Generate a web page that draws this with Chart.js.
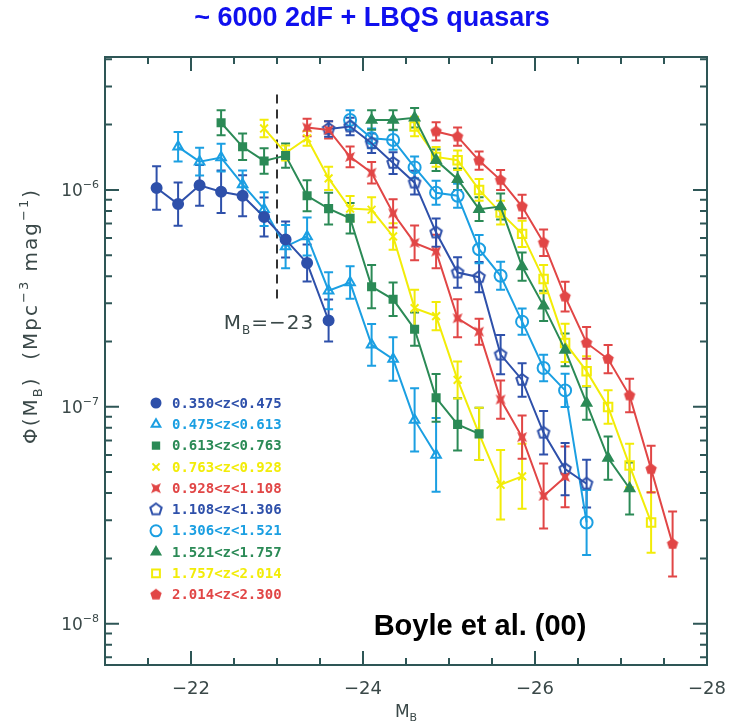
<!DOCTYPE html>
<html>
<head>
<meta charset="utf-8">
<script src="https://cdn.jsdelivr.net/npm/chart.js@4.4.1/dist/chart.umd.min.js"></script>
<style>
html, body { margin: 0; padding: 0; background: #fff; }
</style>
</head>
<body>
<canvas id="chart" width="743" height="725"></canvas>
<script>
// redshift slices
var zLabels = ["0.350<z<0.475", "0.475<z<0.613", "0.613<z<0.763", "0.763<z<0.928", "0.928<z<1.108",
               "1.108<z<1.306", "1.306<z<1.521", "1.521<z<1.757", "1.757<z<2.014", "2.014<z<2.300"];

// absolute magnitude bins (M_B)
var magBins = [-21.6, -21.85, -22.1, -22.35, -22.6, -22.85, -23.1, -23.35, -23.6, -23.85, -24.1, -24.35, -24.6,
               -24.85, -25.1, -25.35, -25.6, -25.85, -26.1, -26.35, -26.6, -26.85, -27.1, -27.35, -27.6];
var firstBin = [0, 1, 3, 5, 7, 8, 9, 10, 12, 13];

// Phi(M_B) in units of 1e-6 Mpc^-3 mag^-1
var phiUnit = 1e-6;
var phi1 = [1.02, 0.86, 1.05, 0.98, 0.94, 0.75, 0.59, 0.46, 0.25];
var phi2 = [1.58, 1.35, 1.41, 1.06, 0.815, 0.548, 0.61, 0.343, 0.374, 0.193, 0.166, 0.087, 0.060];
var phi3 = [2.04, 1.58, 1.36, 1.44, 0.94, 0.82, 0.74, 0.358, 0.313, 0.228, 0.110, 0.083, 0.075];
var phi4 = [1.92, 1.48, 1.73, 1.13, 0.82, 0.81, 0.61, 0.285, 0.262, 0.133, 0.075, 0.0437, 0.0478];
var phi5 = [1.94, 1.89, 1.42, 1.20, 0.78, 0.57, 0.52, 0.256, 0.222, 0.108, 0.0725, 0.0388, 0.0475];
var phi6 = [1.91, 1.96, 1.64, 1.33, 1.08, 0.636, 0.416, 0.396, 0.174, 0.133, 0.0759, 0.0516, 0.0442];
var phi7 = [2.10, 1.73, 1.70, 1.27, 0.97, 0.94, 0.533, 0.402, 0.247, 0.151, 0.119, 0.0293];
var phi8 = [2.10, 2.10, 2.15, 1.37, 1.12, 0.815, 0.838, 0.443, 0.292, 0.183, 0.104, 0.058, 0.042];
var phi9 = [1.96, 1.42, 1.37, 1.00, 0.786, 0.627, 0.388, 0.197, 0.146, 0.0998, 0.0536, 0.0293];
var phi10 = [1.86, 1.76, 1.365, 1.11, 0.838, 0.571, 0.322, 0.197, 0.166, 0.1127, 0.0516, 0.0233];

// half length of error bars, in dex
var err1 = [0.10, 0.10, 0.094, 0.098, 0.095, 0.09, 0.083, 0.085, 0.097];
var err2 = [0.068, 0.064, 0.064, 0.064, 0.078, 0.10, 0.088, 0.085, 0.075, 0.096, 0.10, 0.146, 0.17];
var err3 = [0.058, 0.061, 0.059, 0.056, 0.071, 0.073, 0.07, 0.10, 0.077, 0.077, 0.11, 0.12, 0.12];
var err4 = [0.04, 0.035, 0.034, 0.054, 0.058, 0.058, 0.061, 0.085, 0.065, 0.085, 0.12, 0.16, 0.15];
var err5 = [0.04, 0.04, 0.048, 0.05, 0.065, 0.08, 0.077, 0.088, 0.06, 0.088, 0.10, 0.15, 0.14];
var err6 = [0.036, 0.04, 0.045, 0.05, 0.055, 0.065, 0.07, 0.07, 0.09, 0.077, 0.10, 0.12, 0.11];
var err7 = [0.045, 0.045, 0.045, 0.05, 0.055, 0.055, 0.065, 0.065, 0.06, 0.061, 0.077, 0.15];
var err8 = [0.045, 0.045, 0.045, 0.05, 0.05, 0.055, 0.06, 0.065, 0.07, 0.075, 0.077, 0.10, 0.12];
var err9 = [0.045, 0.045, 0.045, 0.05, 0.055, 0.06, 0.065, 0.088, 0.069, 0.077, 0.10, 0.14];
var err10 = [0.042, 0.042, 0.042, 0.046, 0.054, 0.061, 0.069, 0.073, 0.065, 0.077, 0.108, 0.15];

// M_B = -23 cut
var mbCut = -23;
var cutPhi = [2.75e-6, 3.1e-7];

// axes
var xMin = -28, xMax = -21;
var yMin = 6.45e-9, yMax = 4.1e-6;
var xLabelTicks = [-22, -24, -26, -28];
var xMinorTicks = [-21.5, -22.5, -23, -23.5, -24.5, -25, -25.5, -26.5, -27, -27.5];
var yLabelTicks = [1e-8, 1e-7, 1e-6];
var yMinorTicks = [7e-9, 8e-9, 9e-9, 2e-8, 3e-8, 4e-8, 5e-8, 6e-8, 7e-8, 8e-8, 9e-8,
                   2e-7, 3e-7, 4e-7, 5e-7, 6e-7, 7e-7, 8e-7, 9e-7, 2e-6, 3e-6, 4e-6];

var phiSeries = [phi1, phi2, phi3, phi4, phi5, phi6, phi7, phi8, phi9, phi10];
var errSeries = [err1, err2, err3, err4, err5, err6, err7, err8, err9, err10];

var darkBlue = "#2e50aa", lightBlue = "#1b9fe2", green = "#2b8a56", yellow = "#f2ec08", red = "#e14646";
var frameColor = "#2e5656", textColor = "#3a4848";

function makeMarker(color, sides, inner, rot, filled, r) {
    var c = document.createElement("canvas");
    var s = Math.ceil(2 * r + 4);
    c.width = s; c.height = s;
    var g = c.getContext("2d");
    g.translate(s / 2, s / 2);
    g.beginPath();
    var n = inner ? sides * 2 : sides;
    for (var k = 0; k < n; k++) {
        var rr = (inner && k % 2) ? r * inner : r;
        var a = rot + k * 2 * Math.PI / n;
        if (k == 0) g.moveTo(rr * Math.cos(a), rr * Math.sin(a));
        else g.lineTo(rr * Math.cos(a), rr * Math.sin(a));
    }
    g.closePath();
    if (filled) { g.fillStyle = color; g.fill(); }
    else { g.strokeStyle = color; g.lineWidth = 2; g.stroke(); }
    return c;
}

var seriesLook = [
    { color: darkBlue, style: "circle", filled: true, r: 5 },
    { color: lightBlue, style: "triangle", filled: false, r: 5.5 },
    { color: green, style: "rect", filled: true, r: 5 },
    { color: yellow, style: "crossRot", filled: false, r: 5.5 },
    { color: red, style: makeMarker(red, 4, 0.4, Math.PI / 4, true, 7), filled: true, r: 6 },
    { color: darkBlue, style: makeMarker(darkBlue, 5, 0, -Math.PI / 2, false, 6), filled: false, r: 6 },
    { color: lightBlue, style: "circle", filled: false, r: 6 },
    { color: green, style: "triangle", filled: true, r: 5.5 },
    { color: yellow, style: "rect", filled: false, r: 6 },
    { color: red, style: makeMarker(red, 5, 0, -Math.PI / 2, true, 6), filled: true, r: 6 }
];

var datasets = [];
for (var i = 0; i < zLabels.length; i++) {
    var pts = [];
    for (var j = 0; j < phiSeries[i].length; j++) {
        pts.push({ x: magBins[firstBin[i] + j], y: phiSeries[i][j] * phiUnit });
    }
    var look = seriesLook[i];
    datasets.push({
        label: zLabels[i],
        data: pts,
        errs: errSeries[i],
        look: look,
        borderColor: look.color,
        backgroundColor: look.color,
        pointStyle: look.style,
        pointRadius: look.r,
        pointBorderWidth: 2,
        pointBorderColor: look.color,
        pointBackgroundColor: look.filled ? look.color : "rgba(0,0,0,0)",
        borderWidth: 2,
        fill: false,
        tension: 0
    });
}
datasets.push({
    label: "cut",
    data: [{ x: mbCut, y: cutPhi[0] }, { x: mbCut, y: cutPhi[1] }],
    borderColor: "#333",
    borderWidth: 2,
    borderDash: [9, 6],
    pointRadius: 0,
    fill: false
});

var errorBars = {
    id: "errorBars",
    beforeDatasetsDraw: function(chart) {
        var c = chart.ctx, xs = chart.scales.x, ys = chart.scales.y;
        var cap = 4.5;
        c.save();
        c.lineWidth = 2;
        chart.data.datasets.forEach(function(ds) {
            if (!ds.errs) return;
            c.strokeStyle = ds.borderColor;
            ds.data.forEach(function(p, j) {
                var f = Math.pow(10, ds.errs[j]);
                var px = xs.getPixelForValue(p.x);
                var top = ys.getPixelForValue(p.y * f);
                var bot = ys.getPixelForValue(p.y / f);
                c.beginPath();
                c.moveTo(px, top); c.lineTo(px, bot);
                c.moveTo(px - cap, top); c.lineTo(px + cap, top);
                c.moveTo(px - cap, bot); c.lineTo(px + cap, bot);
                c.stroke();
            });
        });
        c.restore();
    }
};

function textRun(c, parts, x, y, align, family) {
    var total = 0;
    parts.forEach(function(p) { c.font = p[1] + "px " + family; total += c.measureText(p[0]).width; });
    var sx = align == "center" ? x - total / 2 : (align == "right" ? x - total : x);
    c.textAlign = "left";
    parts.forEach(function(p) {
        c.font = p[1] + "px " + family;
        c.fillText(p[0], sx, y + p[2]);
        sx += c.measureText(p[0]).width;
    });
}

var decor = {
    id: "decor",
    afterDraw: function(chart) {
        var c = chart.ctx, a = chart.chartArea, xs = chart.scales.x, ys = chart.scales.y;
        var fam = "'DejaVu Sans', sans-serif";
        c.save();
        // frame + inward ticks
        c.strokeStyle = frameColor;
        c.lineWidth = 2;
        c.strokeRect(a.left, a.top, a.right - a.left, a.bottom - a.top);
        c.beginPath();
        function xTick(v, len) {
            var px = xs.getPixelForValue(v);
            c.moveTo(px, a.bottom); c.lineTo(px, a.bottom - len);
            c.moveTo(px, a.top); c.lineTo(px, a.top + len);
        }
        function yTick(v, len) {
            var py = ys.getPixelForValue(v);
            c.moveTo(a.left, py); c.lineTo(a.left + len, py);
            c.moveTo(a.right, py); c.lineTo(a.right - len, py);
        }
        xLabelTicks.forEach(function(v) { xTick(v, 14); });
        xMinorTicks.forEach(function(v) { xTick(v, 7); });
        yLabelTicks.forEach(function(v) { yTick(v, 14); });
        yMinorTicks.forEach(function(v) { yTick(v, 7); });
        c.stroke();

        // tick labels
        c.fillStyle = textColor;
        c.textBaseline = "middle";
        xLabelTicks.forEach(function(v) {
            textRun(c, [["\u2212" + Math.abs(v), 18, 0]], xs.getPixelForValue(v), a.bottom + 24, "center", fam);
        });
        c.textBaseline = "alphabetic";
        yLabelTicks.forEach(function(v) {
            var ex = Math.round(Math.log10(v));
            textRun(c, [["10", 17, 0], ["\u2212" + Math.abs(ex), 11, -8]], a.left - 6, ys.getPixelForValue(v) + 6, "right", fam);
        });

        // axis titles
        textRun(c, [["M", 17, 0], ["B", 11, 4]], (a.left + a.right) / 2, a.bottom + 52, "center", fam);
        c.save();
        c.translate(37, 316);
        c.rotate(-Math.PI / 2);
        c.letterSpacing = "2px";
        textRun(c, [["\u03A6(M", 20, 0], ["B", 13, 5], [")  (Mpc", 20, 0], ["\u22123", 13, -9],
                    [" mag", 20, 0], ["\u22121", 13, -9], [")", 20, 0]], 0, 0, "center", fam);
        c.restore();

        // M_B = -23 note
        c.save();
        c.letterSpacing = "1px";
        textRun(c, [["M", 20, 0], ["B", 12, 5], ["=\u221223", 20, 0]], xs.getPixelForValue(mbCut) - 8, ys.getPixelForValue(cutPhi[1]) + 29, "center", fam);
        c.restore();

        // legend
        c.textBaseline = "middle";
        chart.data.datasets.forEach(function(ds, k) {
            if (!ds.look) return;
            var ly = a.top + 346 + k * 21.3;
            var lx = a.left + 51;
            c.fillStyle = ds.look.filled ? ds.look.color : "rgba(0,0,0,0)";
            c.strokeStyle = ds.look.color;
            c.lineWidth = 2;
            Chart.helpers.drawPoint(c, { pointStyle: ds.look.style, radius: ds.look.r - 0.5, borderWidth: 2, rotation: 0 }, lx, ly);
            c.fillStyle = ds.look.color;
            c.font = "bold 14px 'DejaVu Sans Mono', monospace";
            c.textAlign = "left";
            c.fillText(ds.label, lx + 16, ly + 1);
        });

        // title and credit
        c.fillStyle = "#1010ee";
        c.font = "bold 27px 'Liberation Sans', Arial, sans-serif";
        c.textAlign = "center";
        c.textBaseline = "middle";
        c.fillText("~ 6000 2dF + LBQS quasars", 372, 19);
        c.fillStyle = "#000";
        c.font = "bold 29px 'Liberation Sans', Arial, sans-serif";
        c.fillText("Boyle et al. (00)", 480, 627);
        c.restore();
    }
};

var ctx = document.getElementById("chart");
var myChart = new Chart(ctx, {
    type: "line",
    data: { datasets: datasets },
    options: {
        responsive: false,
        animation: false,
        layout: { padding: { left: 105, right: 36, top: 57, bottom: 60 } },
        plugins: { legend: { display: false }, tooltip: { enabled: false } },
        scales: {
            x: { type: "linear", min: xMin, max: xMax, reverse: true, display: false },
            y: { type: "logarithmic", min: yMin, max: yMax, display: false }
        }
    },
    plugins: [errorBars, decor]
});
</script>
</body>
</html>
